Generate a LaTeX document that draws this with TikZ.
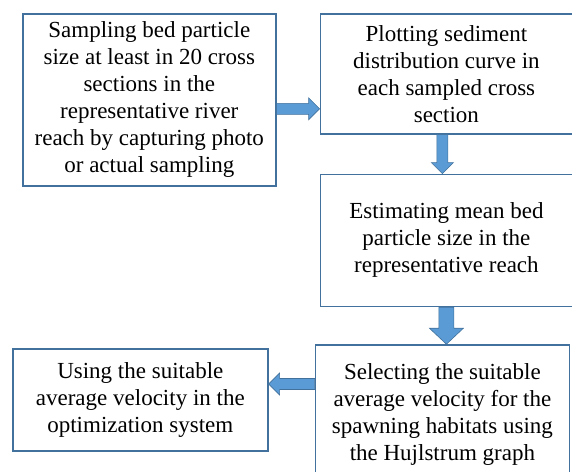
\documentclass[tikz,border=0pt]{standalone}
\usepackage{fontspec}
\setmainfont{Liberation Serif}
\usetikzlibrary{positioning, calc}
\definecolor{boxline}{HTML}{41719C}
\definecolor{arrowfill}{HTML}{5B9BD5}

\begin{document}
\begin{tikzpicture}[
  x=1pt, y=1pt,
  every node/.style={font=\fontsize{23}{27}\selectfont},
  stepbox/.style={
    rectangle, draw=boxline, fill=white, line width=1.6pt,
    align=center, inner sep=2pt
  },
  fat arrow/.style n args={3}{
    draw=boxline, fill=arrowfill, line width=0.6pt, line join=miter,
    to path={($(\tikztotarget)!#3!(\tikztostart)$) coordinate (hb)
      ($(\tikztostart)!#1!90:(\tikztotarget)$)
      -- ($(hb)!#1!-90:(\tikztostart)$) -- ($(hb)!#2!-90:(\tikztostart)$)
      -- (\tikztotarget)
      -- ($(hb)!#2!90:(\tikztostart)$) -- ($(hb)!#1!90:(\tikztostart)$)
      -- ($(\tikztostart)!#1!-90:(\tikztotarget)$) -- cycle}
  }
]
\useasboundingbox (0,0) rectangle (572,-471);

\node[stepbox, minimum width=253pt, minimum height=172pt, anchor=north west] (sample) at (22,-13)
  {Sampling bed particle\\size at least in 20 cross\\sections in the\\representative river\\reach by capturing photo\\or actual sampling};
\node[stepbox, minimum width=252pt, minimum height=120pt, right=43pt of sample.north east, anchor=north west] (plot)
  {Plotting sediment\\distribution curve in\\each sampled cross\\section};
\node[stepbox, minimum width=252pt, minimum height=132pt, below=39pt of plot] (estimate)
  {Estimating mean bed\\particle size in the\\representative reach};
\node[stepbox, minimum width=254pt, minimum height=138pt, below=37pt of estimate, xshift=-4pt] (select)
  {Selecting the suitable\\average velocity for the\\spawning habitats using\\the Hujlstrum graph};
\node[stepbox, minimum width=255pt, minimum height=102pt, left=46pt of select.north west, anchor=north east, yshift=-4pt] (use)
  {Using the suitable\\average velocity in the\\optimization system};

\draw[fat arrow={5.5pt}{11pt}{11pt}] ([yshift=-35pt]plot.west -| sample.east) to ([yshift=-35pt]plot.west);
\draw[fat arrow={5.5pt}{11pt}{11pt}] ([xshift=-4pt]plot.south) to ([xshift=-4pt]estimate.north);
\draw[fat arrow={7.5pt}{17pt}{16pt}] (estimate.south) to (estimate.south |- select.north);
\draw[fat arrow={5.5pt}{11pt}{11pt}] ([yshift=30pt]select.west) to ([yshift=30pt]select.west -| use.east);
\end{tikzpicture}
\end{document}
